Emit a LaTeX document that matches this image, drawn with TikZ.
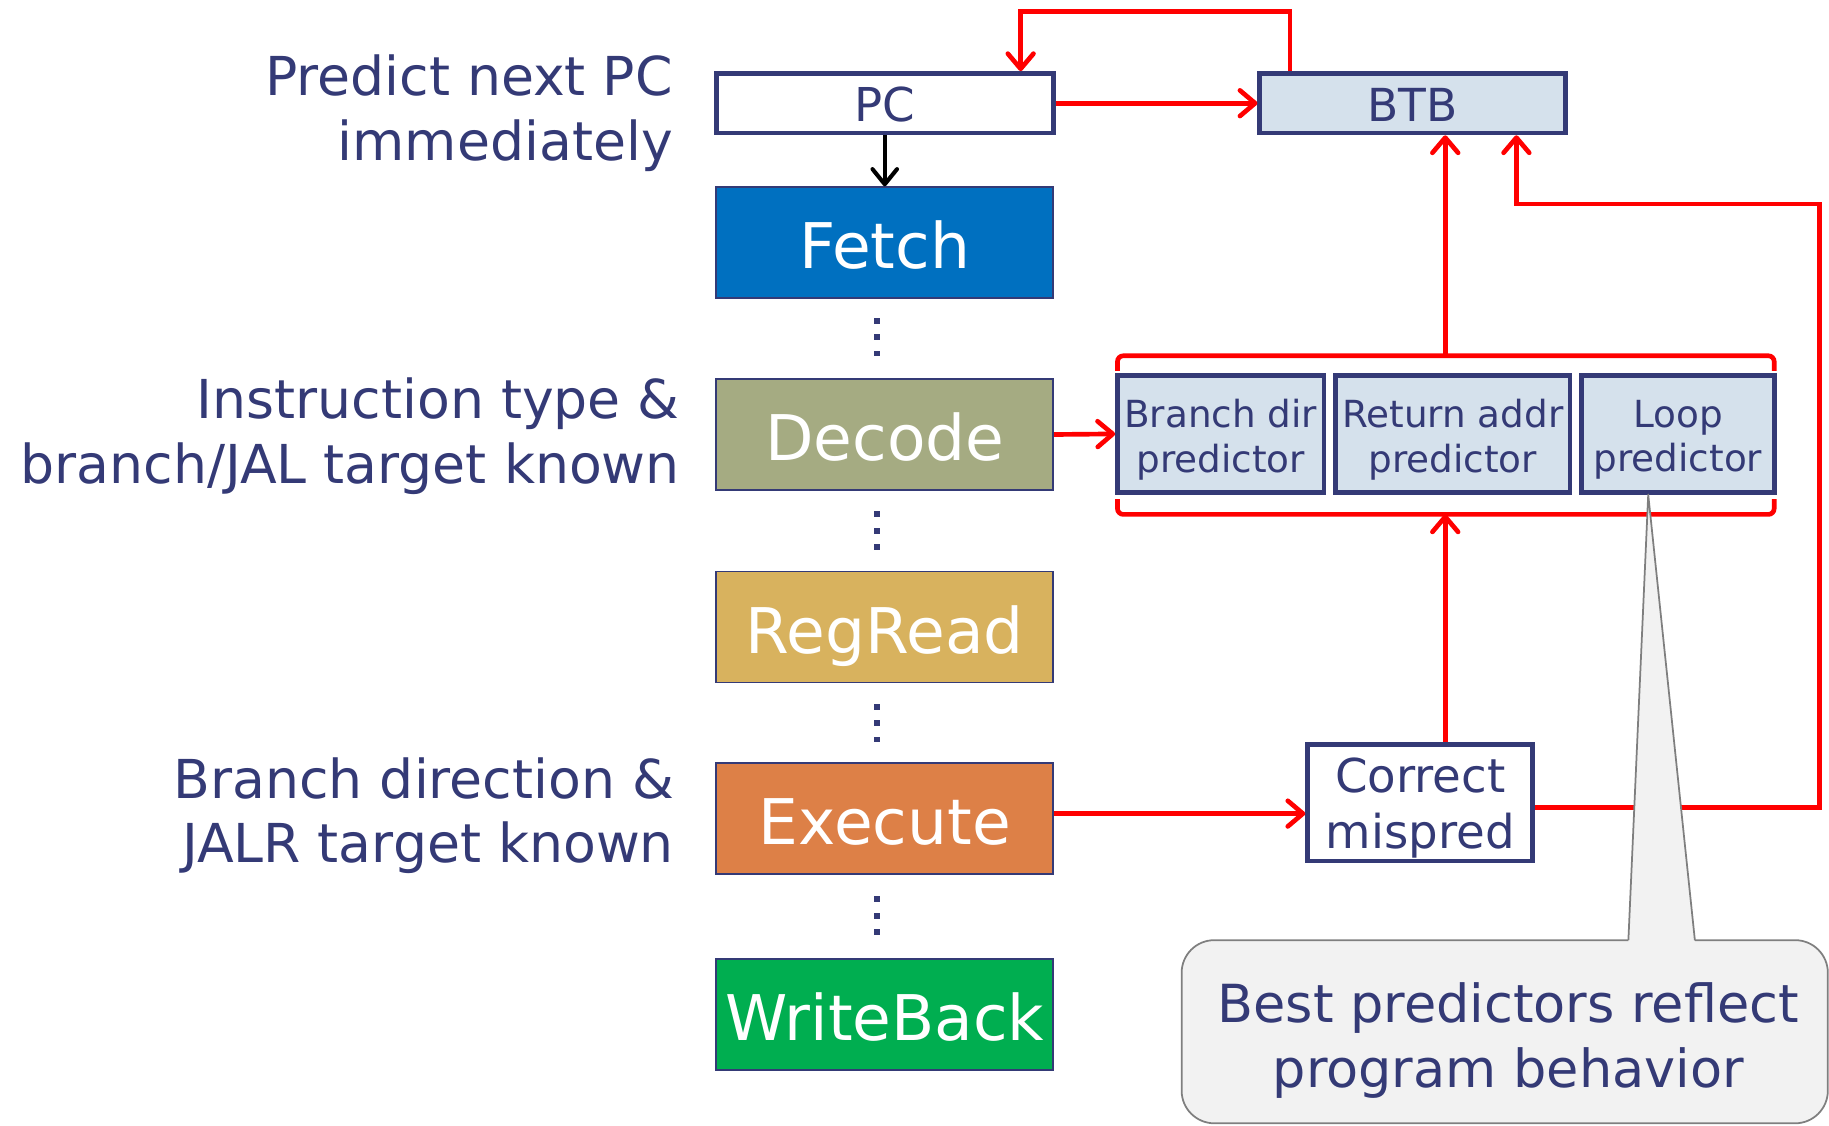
\documentclass[tikz,border=0pt]{standalone}
\usepackage{fontspec}
\setmainfont{DejaVu Sans}
\usetikzlibrary{arrows.meta,calc}
\definecolor{navy}{RGB}{52,58,118}
\definecolor{lightblue}{RGB}{213,225,236}
\definecolor{fetchc}{RGB}{0,112,192}
\definecolor{decodec}{RGB}{165,171,130}
\definecolor{regreadc}{RGB}{216,178,94}
\definecolor{executec}{RGB}{221,128,71}
\definecolor{wbc}{RGB}{0,174,80}
\definecolor{calloutfill}{RGB}{242,242,242}
\definecolor{calloutline}{RGB}{127,127,127}
\begin{document}
\begin{tikzpicture}[x=1pt,y=-1pt,
  stage/.style={draw=navy, line width=1.5pt, minimum width=289pt, minimum height=95pt,
    inner sep=0pt, text=white, font=\fontsize{54}{60}\selectfont,
    text height=45pt, text depth=0pt},
  regbox/.style={draw=navy, line width=4pt, inner sep=0pt, text=navy},
  boxtext/.style={text=navy, align=center, inner sep=0pt},
  pred/.style={regbox, fill=lightblue, minimum height=100pt},
  predtext/.style={boxtext, yshift=-5pt, font=\fontsize{32}{38}\selectfont},
  sidelabel/.style={text=navy, align=right, anchor=east, inner sep=0pt,
    font=\fontsize{46}{55}\selectfont},
  notetext/.style={text=navy, anchor=base, inner sep=0pt, font=\fontsize{45}{55}\selectfont},
  rline/.style={draw=red, line width=4pt},
  rarrow/.style={rline, -{Straight Barb[length=13pt,width=22pt,round]}},
  barrow/.style={draw=black, line width=3.5pt, -{Straight Barb[length=13pt,width=21pt,round]}},
  dotsq/.style={fill=navy}
]
\useasboundingbox (0,0) rectangle (1568,965);

% left labels
\node[sidelabel] (lab1) at (577,97) {Predict next PC\\immediately};
\node[sidelabel] (lab2) at (583,374) {Instruction type \&\\branch/JAL target known};
\node[sidelabel] (lab3) at (578,699) {Branch direction \&\\JALR target known};

% PC and BTB
\node[regbox, fill=white, minimum width=289pt, minimum height=51pt,
  font=\fontsize{40}{48}\selectfont, text height=32pt, text depth=0pt] (PC) at (758.5,88.5) {PC};
\node[regbox, fill=lightblue, minimum width=262pt, minimum height=51pt,
  font=\fontsize{39}{48}\selectfont, text height=31pt, text depth=0pt] (BTB) at (1211,88.5) {BTB};

% pipeline stages
\node[stage, fill=fetchc]   (fetch)   at (758.5,208)   {Fetch};
\node[stage, fill=decodec]  (decode)  at (758.5,372.5) {Decode};
\node[stage, fill=regreadc] (regread) at (758.5,537.5) {RegRead};
\node[stage, fill=executec] (execute) at (758.5,701.5) {Execute};
\node[stage, fill=wbc]      (wb)      at (758.5,869.5) {WriteBack};

% dots between stages
\foreach \yy in {275,289,303, 441,455,469, 606,620,634, 771,785,799}
  \fill[dotsq] (749.5,\yy-2.5) rectangle ++(5,5);

% predictors
\node[pred, minimum width=177pt, label={[predtext]center:Branch dir\\predictor}] (bdir) at (1046.5,372) {};
\node[pred, minimum width=201pt, label={[predtext]center:Return addr\\predictor}] (raddr) at (1245.5,372) {};
\node[pred, minimum width=165pt, label={[predtext]center:Loop\\predictor}] (loop) at (1438.5,372) {};

% correct mispred
\node[regbox, fill=white, minimum width=193pt, minimum height=100pt,
  label={[boxtext, yshift=-5pt, font=\fontsize{40}{48}\selectfont]center:Correct\\mispred}] (CM) at (1217.5,688) {};

% brackets around predictors
\coordinate (brtop) at (1239,305);
\coordinate (brbot) at (1239,441);
\draw[rline, rounded corners=5pt] (958,318) -- (958,305) -- (1521,305) -- (1521,318);
\draw[rline, rounded corners=5pt] (958,428) -- (958,441) -- (1521,441) -- (1521,428);

% connectors
\draw[barrow] (PC.south) -- (fetch.north);
\draw[rarrow] (PC.east) -- (BTB.west);
\draw[rarrow] ([xshift=28pt]BTB.north west) -- ++(0,-51) -| ([xshift=116.5pt]PC.north);
\draw[rarrow] (brtop) -- (brtop |- BTB.south);
\draw[rarrow] (decode.east) -- (bdir.west);
\draw[rarrow] ([yshift=4pt]execute.east) -- ([yshift=4pt]execute.east -| CM.west);
\draw[rarrow] ([xshift=21.5pt]CM.north) -- (brbot);
\coordinate (rcorner) at (1560,175);
\draw[rarrow] ([yshift=-4pt]CM.east) -| (rcorner) -| ([xshift=89pt]BTB.south);

% callout
\draw[draw=calloutline, fill=calloutfill, line width=1.5pt, rounded corners=28pt]
  (1013,806) rectangle (1567,963);
\fill[calloutfill] (1396,808) -- (1413,424) -- (1453,808) -- cycle;
\draw[draw=calloutline, line width=1.5pt, line join=round] (1396,806) -- (1413,424) -- (1453,806);
\node[notetext] (note1) at (1293,877) {Best predictors reflect};
\node[notetext] (note2) at (1293,932) {program behavior};
\end{tikzpicture}
\end{document}
